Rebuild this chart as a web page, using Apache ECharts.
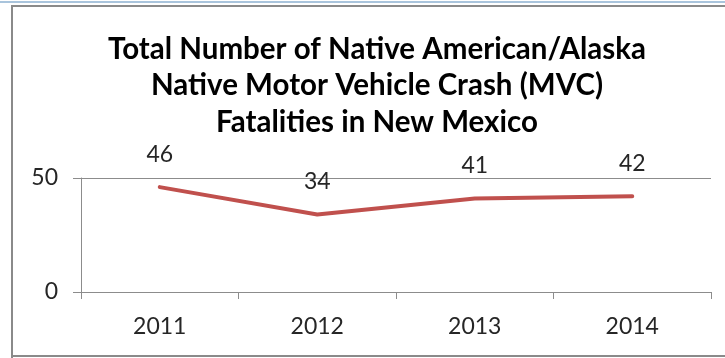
<!DOCTYPE html>
<html>
<head>
<meta charset="utf-8">
<script src="https://cdn.jsdelivr.net/npm/echarts@6/dist/echarts.min.js"></script>
<style>
  html, body { margin: 0; padding: 0; background: #fff; }
  #chart { width: 725px; height: 358px; }
</style>
</head>
<body>
<div id="chart"></div>
<script>
// Native American/Alaska Native MVC fatalities, New Mexico
const years = ['2011', '2012', '2013', '2014'];
const fatalities = [46, 34, 41, 42];
const yTicks = [0, 50];

const chart = echarts.init(document.getElementById('chart'), null, { renderer: 'canvas' });

const axisGray = '#8c8c8c';
const textColor = '#262626';
const fontFamily = 'Lato, "Open Sans", sans-serif';

chart.setOption({
  animation: false,
  backgroundColor: '#ffffff',
  title: {
    text: 'Total Number of Native American/Alaska\nNative Motor Vehicle Crash (MVC)\nFatalities in New Mexico',
    left: 372,
    top: 26,
    textAlign: 'center',
    textStyle: {
      fontFamily: fontFamily,
      fontWeight: 'bold',
      fontSize: 29.5,
      lineHeight: 36.5,
      color: '#000000'
    }
  },
  grid: { left: 81, right: 14, top: 178, bottom: 66 },
  xAxis: {
    type: 'category',
    data: years,
    boundaryGap: true,
    axisLine: { lineStyle: { color: axisGray, width: 1 } },
    axisTick: { show: true, length: 7, alignWithLabel: false, lineStyle: { color: axisGray } },
    axisLabel: { color: textColor, fontFamily: fontFamily, fontSize: 23, margin: 23 },
    splitLine: { show: false }
  },
  yAxis: {
    type: 'value',
    min: yTicks[0],
    max: yTicks[yTicks.length - 1],
    interval: 50,
    axisLine: { show: true, lineStyle: { color: axisGray, width: 1 } },
    axisTick: { show: true, length: 8, lineStyle: { color: axisGray } },
    axisLabel: { color: textColor, fontFamily: fontFamily, fontSize: 23, margin: 23 },
    splitLine: { show: true, lineStyle: { color: axisGray, width: 1 } }
  },
  series: [{
    type: 'line',
    data: fatalities,
    symbol: 'circle',
    symbolSize: 0.1,
    showSymbol: true,
    showAllSymbol: true,
    lineStyle: { color: '#C0504D', width: 4, cap: 'round' },
    itemStyle: { color: '#C0504D' },
    label: {
      show: true,
      position: 'top',
      distance: 21,
      color: textColor,
      fontFamily: fontFamily,
      fontSize: 23
    }
  }],
  graphic: [
    { type: 'rect', shape: { x: 0, y: 1, width: 725, height: 2 }, style: { fill: '#a9c4dc' }, silent: true },
    { type: 'rect', shape: { x: 11, y: 5, width: 714, height: 2 }, style: { fill: '#8a8a8a' }, silent: true },
    { type: 'rect', shape: { x: 11, y: 5, width: 2, height: 353 }, style: { fill: '#8a8a8a' }, silent: true },
    { type: 'rect', shape: { x: 11, y: 355, width: 714, height: 2 }, style: { fill: '#8a8a8a' }, silent: true }
  ]
});
</script>
</body>
</html>
